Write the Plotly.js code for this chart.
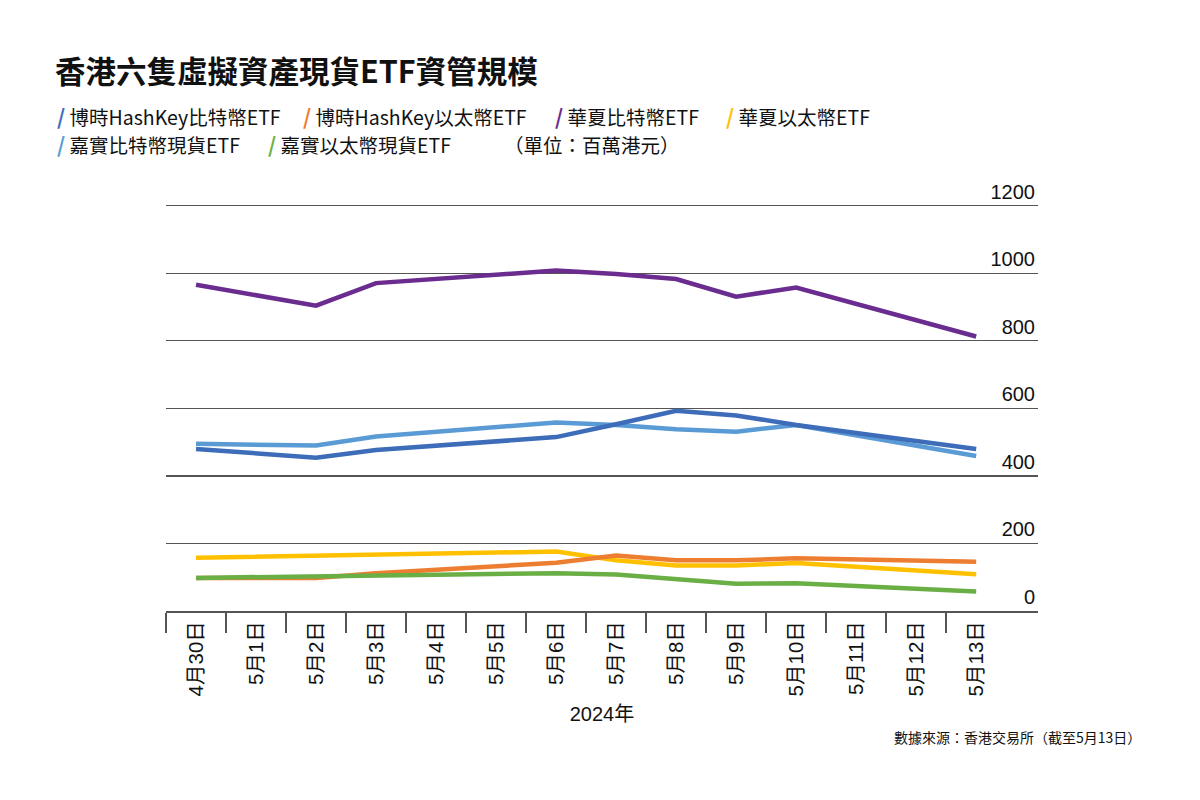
<!DOCTYPE html>
<html>
<head>
<meta charset="utf-8">
<script src="https://cdn.plot.ly/plotly-3.0.1.min.js"></script>
<style>
  html, body { margin:0; padding:0; background:#ffffff; }
  #myDiv { width:1200px; height:800px; }
</style>
</head>
<body>
<div id="myDiv"></div>
<script>
// categories on the x axis (every calendar day)
var days = ['4月30日','5月1日','5月2日','5月3日','5月4日','5月5日','5月6日',
            '5月7日','5月8日','5月9日','5月10日','5月11日','5月12日','5月13日'];

// values in HK$ millions, null = no trading day (line connects across)
var hkBtc  = [480, null, 454, 477, null, null, 515, 553, 593, 579, 551, null, null, 480];
var hkEth  = [ 98, null,  98, 112, null, null, 143, 164, 150, 150, 156, null, null, 146];
var caBtc  = [966, null, 904, 971, null, null,1008, 998, 983, 931, 958, null, null, 813];
var caEth  = [158, null, 164, 164, null, null, 176, 150, 135, 135, 142, null, null, 109];
var hvBtc  = [495, null, 490, 517, null, null, 558, 551, 538, 531, 551, null, null, 459];
var hvEth  = [ 98, null, 102, 104, null, null, 112, 108,  95,  81,  82, null, null,  58];

var seriesNames  = ['博時HashKey比特幣ETF','博時HashKey以太幣ETF','華夏比特幣ETF',
                    '華夏以太幣ETF','嘉實比特幣現貨ETF','嘉實以太幣現貨ETF'];
var seriesValues = [hkBtc, hkEth, caBtc, caEth, hvBtc, hvEth];
var seriesColors = ['#3d6cb9','#ed7d31','#6a2c8e','#ffc000','#5b9bd5','#6aaf46'];

var yTicks = [0, 200, 400, 600, 800, 1000, 1200];

var cjk = '"Noto Sans CJK TC", "Noto Sans CJK SC", sans-serif';
var latin = '"Liberation Sans", Arial, "Noto Sans CJK TC", sans-serif';

// plot box in pixels
var W = 1200, H = 800;
var mL = 166, mR = 162, mT = 172, mB = 189;
function px(x) { return (x - mL) / (W - mL - mR); }
function py(y) { return (H - mB - y) / (H - mT - mB); }

var data = [];
var order = [2, 4, 0, 3, 1, 5];
order.forEach(function(i) {
  data.push({
    x: days,
    y: seriesValues[i],
    name: seriesNames[i],
    type: 'scatter',
    mode: 'lines',
    connectgaps: true,
    showlegend: false,
    line: { color: seriesColors[i], width: 4.5 },
    hoverinfo: 'skip'
  });
});

// legend drawn as text with coloured slashes
var legendPos = [ [55,116], [301,116], [553,116], [724,116], [55,144], [266,144] ];
var annotations = [];
seriesNames.forEach(function(n, i) {
  annotations.push({
    xref: 'paper', yref: 'paper',
    x: px(legendPos[i][0]), y: py(legendPos[i][1]),
    xanchor: 'left', yanchor: 'middle', showarrow: false,
    text: '<span style="color:' + seriesColors[i] + ';font-size:21px"><b>/</b></span> ' + n,
    font: { family: cjk, size: 19.5, color: '#111111' }
  });
});
annotations.push({
  xref: 'paper', yref: 'paper', x: px(502), y: py(144),
  xanchor: 'left', yanchor: 'middle', showarrow: false,
  text: '（單位：百萬港元）',
  font: { family: cjk, size: 19.5, color: '#111111' }
});
annotations.push({
  xref: 'paper', yref: 'paper', x: px(1143), y: py(737),
  xanchor: 'right', yanchor: 'middle', showarrow: false,
  text: '數據來源：香港交易所（截至5月13日）',
  font: { family: cjk, size: 14, color: '#111111' }
});

var layout = {
  width: W,
  height: H,
  paper_bgcolor: '#ffffff',
  plot_bgcolor: '#ffffff',
  margin: { l: mL, r: mR, t: mT, b: mB },
  title: {
    text: '<b>香港六隻虛擬資產現貨ETF資管規模</b>',
    x: 55/W, xanchor: 'left', xref: 'container',
    y: 1 - 72/H, yanchor: 'middle', yref: 'container',
    font: { family: cjk, size: 30.5, color: '#111111' }
  },
  xaxis: {
    type: 'category',
    categoryorder: 'array',
    categoryarray: days,
    range: [-0.5, 14.03],
    tickson: 'boundaries',
    ticks: 'outside',
    ticklen: 20,
    tickwidth: 1.5,
    tickcolor: '#555555',
    tickangle: -90,
    tickfont: { family: latin, size: 20.5, color: '#111111' },
    showline: true,
    linecolor: '#555555',
    linewidth: 2,
    showgrid: false,
    zeroline: false,
    title: { text: '2024年', font: { family: latin, size: 20, color: '#111111' }, standoff: 12 },
    fixedrange: true
  },
  yaxis: {
    range: [0, 1300],
    tickvals: yTicks,
    ticktext: yTicks.map(String),
    side: 'right',
    ticklabelposition: 'inside top',
    ticks: '',
    tickfont: { family: latin, size: 20, color: '#111111' },
    showgrid: true,
    gridcolor: '#555555',
    gridwidth: 1.2,
    zeroline: false,
    showline: false,
    fixedrange: true
  },
  annotations: annotations,
  showlegend: false
};

var config = { displayModeBar: false, responsive: false, staticPlot: true };

Plotly.newPlot('myDiv', data, layout, config);
</script>
</body>
</html>
